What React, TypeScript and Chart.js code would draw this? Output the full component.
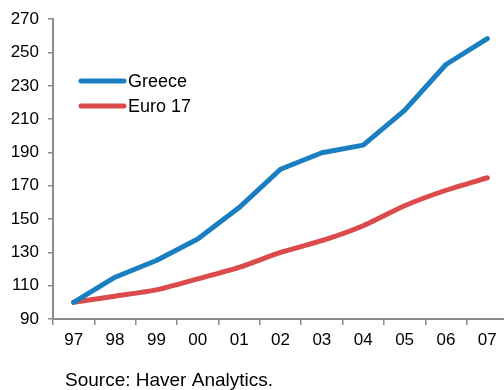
import React, { useEffect, useRef } from "react";
import { Chart, registerables } from "chart.js";

Chart.register(...registerables);

const years = ["97", "98", "99", "00", "01", "02", "03", "04", "05", "06", "07"];
const greece = [100, 115.1, 125.1, 138, 156.9, 179.9, 189.8, 194.4, 215.3, 242.8, 258.3];
const euro17 = [100, 103.7, 107.5, 114.1, 121.0, 130, 137, 146, 158, 167.3, 174.8];
const seriesNames = ["Greece", "Euro 17"];
const seriesColors = ["#1a7fc1", "#dc4b4b"];
const sourceText = "Source: Haver Analytics.";

const FONT = "'Liberation Sans', Arial, sans-serif";

const overlay = {
  id: "overlay",
  afterDraw(chart: any) {
    const ctx = chart.ctx;
    ctx.save();
    // legend
    const rows = [81, 106];
    seriesNames.forEach((name, i) => {
      ctx.strokeStyle = seriesColors[i];
      ctx.lineWidth = 5;
      ctx.lineCap = "round";
      ctx.beginPath();
      ctx.moveTo(81, rows[i]);
      ctx.lineTo(124, rows[i]);
      ctx.stroke();
      ctx.fillStyle = "#000";
      ctx.font = `18px ${FONT}`;
      ctx.textBaseline = "middle";
      ctx.textAlign = "left";
      ctx.fillText(name, 128, rows[i] + 1);
    });
    // source
    ctx.font = `19px ${FONT}`;
    ctx.textBaseline = "alphabetic";
    ctx.fillStyle = "#000";
    ctx.fillText(sourceText, 65, 386);
    ctx.restore();
  },
};

export default function App() {
  const ref = useRef<HTMLCanvasElement | null>(null);
  useEffect(() => {
    if (!ref.current) return;
    const chart = new Chart(ref.current, {
      type: "line",
      data: {
        labels: years,
        datasets: [
          {
            label: seriesNames[0],
            data: greece,
            borderColor: seriesColors[0],
            backgroundColor: seriesColors[0],
            borderWidth: 5,
            pointRadius: 0,
            tension: 0,
            borderCapStyle: "round",
            borderJoinStyle: "round",
          },
          {
            label: seriesNames[1],
            data: euro17,
            borderColor: seriesColors[1],
            backgroundColor: seriesColors[1],
            borderWidth: 5,
            pointRadius: 0,
            tension: 0.2,
            borderCapStyle: "round",
            borderJoinStyle: "round",
          },
        ],
      },
      options: {
        responsive: false,
        animation: false,
        layout: { padding: { left: 0, right: 12, top: 17.5, bottom: 0 } },
        plugins: { legend: { display: false }, tooltip: { enabled: false }, title: { display: false } },
        scales: {
          x: {
            offset: true,
            grid: { offset: true, drawOnChartArea: false, drawTicks: true, tickLength: 6, color: "#8c8c8c", lineWidth: 1.5 },
            border: { display: true, color: "#8c8c8c", width: 2 },
            ticks: { color: "#000", font: { family: FONT, size: 17 }, padding: 5, maxRotation: 0, autoSkip: false },
            afterFit: (s: any) => { s.height = 71; },
          },
          y: {
            min: 90,
            max: 270,
            grid: { drawOnChartArea: false, drawTicks: true, tickLength: 5, color: "#8c8c8c", lineWidth: 1.5 },
            border: { display: true, color: "#8c8c8c", width: 2 },
            ticks: { stepSize: 20, color: "#000", font: { family: FONT, size: 17 }, padding: 9 },
            afterFit: (s: any) => { s.width = 53; },
          },
        },
      },
      plugins: [overlay],
    });
    return () => chart.destroy();
  }, []);
  return (
    <div style={{ position: "fixed", left: 0, top: 0, width: 504, height: 390, overflow: "hidden", background: "#fff" }}>
      <canvas ref={ref} width={520} height={390} style={{ display: "block", width: 520, height: 390 }} />
    </div>
  );
}
